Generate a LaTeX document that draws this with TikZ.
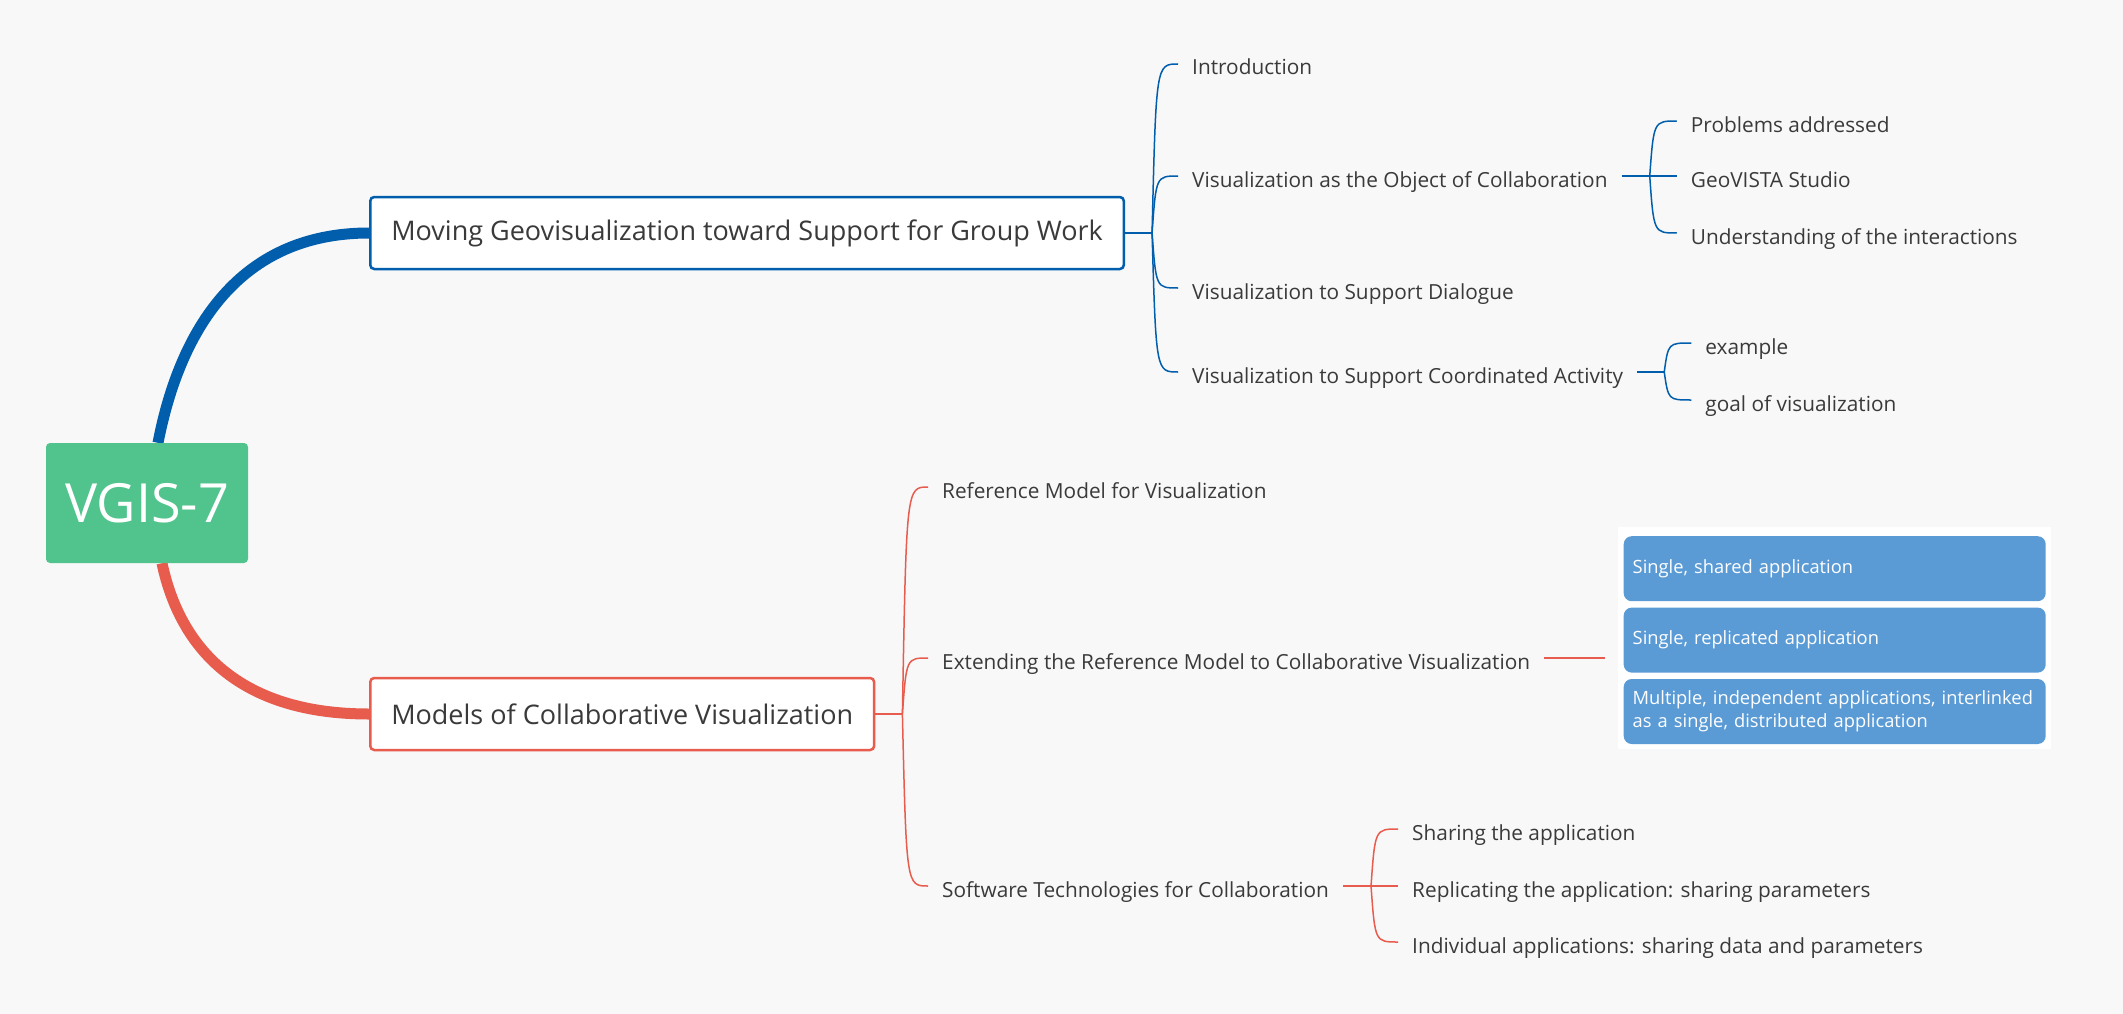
\documentclass[tikz,border=0pt]{standalone}
\usepackage{fontspec}
\setmainfont{Open Sans}
\usetikzlibrary{positioning,backgrounds}
\definecolor{paper}{HTML}{F8F8F8}
\definecolor{mblue}{HTML}{005EAC}
\definecolor{mred}{HTML}{E85C4E}
\definecolor{mgreen}{HTML}{50C48C}
\definecolor{ink}{HTML}{3A3A3A}
\definecolor{cellblue}{HTML}{5B9BD5}

\begin{document}
\begin{tikzpicture}[x=1pt, y=-1pt,
    brace/.style={to path={.. controls ([xshift=4pt]\tikztostart |- \tikztotarget) .. (\tikztotarget)}}]
    \tikzstyle{topic}=[draw, line width=2.5pt, fill=white, rounded corners=4pt, anchor=west, minimum height=72pt, inner xsep=21pt, text=ink, font=\fontsize{27}{31}\selectfont]
    \tikzstyle{leaf}=[anchor=west, inner xsep=14pt, inner ysep=0pt, text height=22pt, text depth=0pt, text=ink, font=\fontsize{20.8}{25}\selectfont]
    \tikzstyle{cell}=[fill=cellblue, rounded corners=8pt, minimum height=65pt, text width=404pt, inner xsep=9pt, align=left, text=white, font=\fontsize{18.3}{23}\selectfont]
    \tikzstyle{bline}=[mblue, line width=1.5pt]
    \tikzstyle{rline}=[mred, line width=1.5pt]

    % central topic and main branches
    \node[fill=mgreen, rounded corners=4pt, minimum width=202pt, minimum height=120pt, text=white, font=\fontsize{54}{60}\selectfont] (root) at (147,503) {VGIS-7};
    \node[topic, draw=mblue] (t1) at (369,233) {Moving Geovisualization toward Support for Group Work};
    \node[topic, draw=mred] (t2) at (369,714) {Models of Collaborative Visualization};

    % first branch
    \coordinate (j1) at ([xshift=27pt]t1.east);
    \node[leaf] (c11) at (1178,64) {Introduction};
    \node[leaf] (c12) at (1178,176) {Visualization as the Object of Collaboration};
    \node[leaf] (c13) at (1178,288) {Visualization to Support Dialogue};
    \node[leaf] (c14) at (1178,372) {Visualization to Support Coordinated Activity};
    \coordinate (j12) at ([xshift=28pt]c12.east);
    \node[leaf] (c121) at ([xshift=27pt, yshift=55pt]j12) {Problems addressed};
    \node[leaf] (c122) at ([xshift=27pt]j12) {GeoVISTA Studio};
    \node[leaf] (c123) at ([xshift=27pt, yshift=-57pt]j12) {Understanding of the interactions};
    \coordinate (j14) at ([xshift=27pt]c14.east);
    \node[leaf] (c141) at ([xshift=27pt, yshift=29pt]j14) {example};
    \node[leaf] (c142) at ([xshift=27pt, yshift=-28pt]j14) {goal of visualization};

    % second branch
    \coordinate (j2) at ([xshift=27pt]t2.east);
    \node[leaf] (c21) at (928,487) {Reference Model for Visualization};
    \node[leaf] (c22) at (928,658) {Extending the Reference Model to Collaborative Visualization};
    \node[leaf] (c23) at (928,886) {Software Technologies for Collaboration};
    \coordinate (j23) at ([xshift=28pt]c23.east);
    \node[leaf] (c231) at ([xshift=27pt, yshift=57pt]j23) {Sharing the application};
    \node[leaf] (c232) at ([xshift=27pt]j23) {Replicating the application: sharing parameters};
    \node[leaf] (c233) at ([xshift=27pt, yshift=-56pt]j23) {Individual applications: sharing data and parameters};

    % picture attached to c22
    \node[fill=white, minimum width=433pt, minimum height=222pt, inner sep=0pt, anchor=north west] (img) at (1618,527) {};
    \node[cell, anchor=north] (s1) at ([yshift=-9pt]img.north) {Single, shared application};
    \node[cell, below=6pt of s1] (s2) {Single, replicated application};
    \node[cell, below=6pt of s2] (s3) {Multiple, independent applications, interlinked\\as a single, distributed application};
    \path (img.west |- c22.east) ++(-13,0) coordinate (ext);

    \begin{scope}[on background layer]
        \fill[paper] (0,0) rectangle (2123,1014);
        \draw[mblue, line width=11pt] ([xshift=11pt]root.north) .. controls +(22,-113) and +(-130,0) .. (t1.west);
        \draw[mred, line width=11pt] ([xshift=15pt]root.south) .. controls +(18,85) and +(-130,0) .. (t2.west);
    \end{scope}

    \draw[bline, line width=2.5pt] (t1.east) -- (j1);
    \foreach \c in {c11,c12,c13,c14} \draw[bline] (j1) to[brace] (\c.west);
    \draw[bline, line width=2.5pt] (c12.east) -- (j12);
    \foreach \c in {c121,c122,c123} \draw[bline] (j12) to[brace] (\c.west);
    \draw[bline, line width=2.5pt] (c14.east) -- (j14);
    \foreach \c in {c141,c142} \draw[bline] (j14) to[brace] (\c.west);

    \draw[rline, line width=2.5pt] (t2.east) -- (j2);
    \foreach \c in {c21,c22,c23} \draw[rline] (j2) to[brace] (\c.west);
    \draw[rline] (c22.east) -- (ext);
    \draw[rline, line width=2.5pt] (c23.east) -- (j23);
    \foreach \c in {c231,c232,c233} \draw[rline] (j23) to[brace] (\c.west);
\end{tikzpicture}
\end{document}
